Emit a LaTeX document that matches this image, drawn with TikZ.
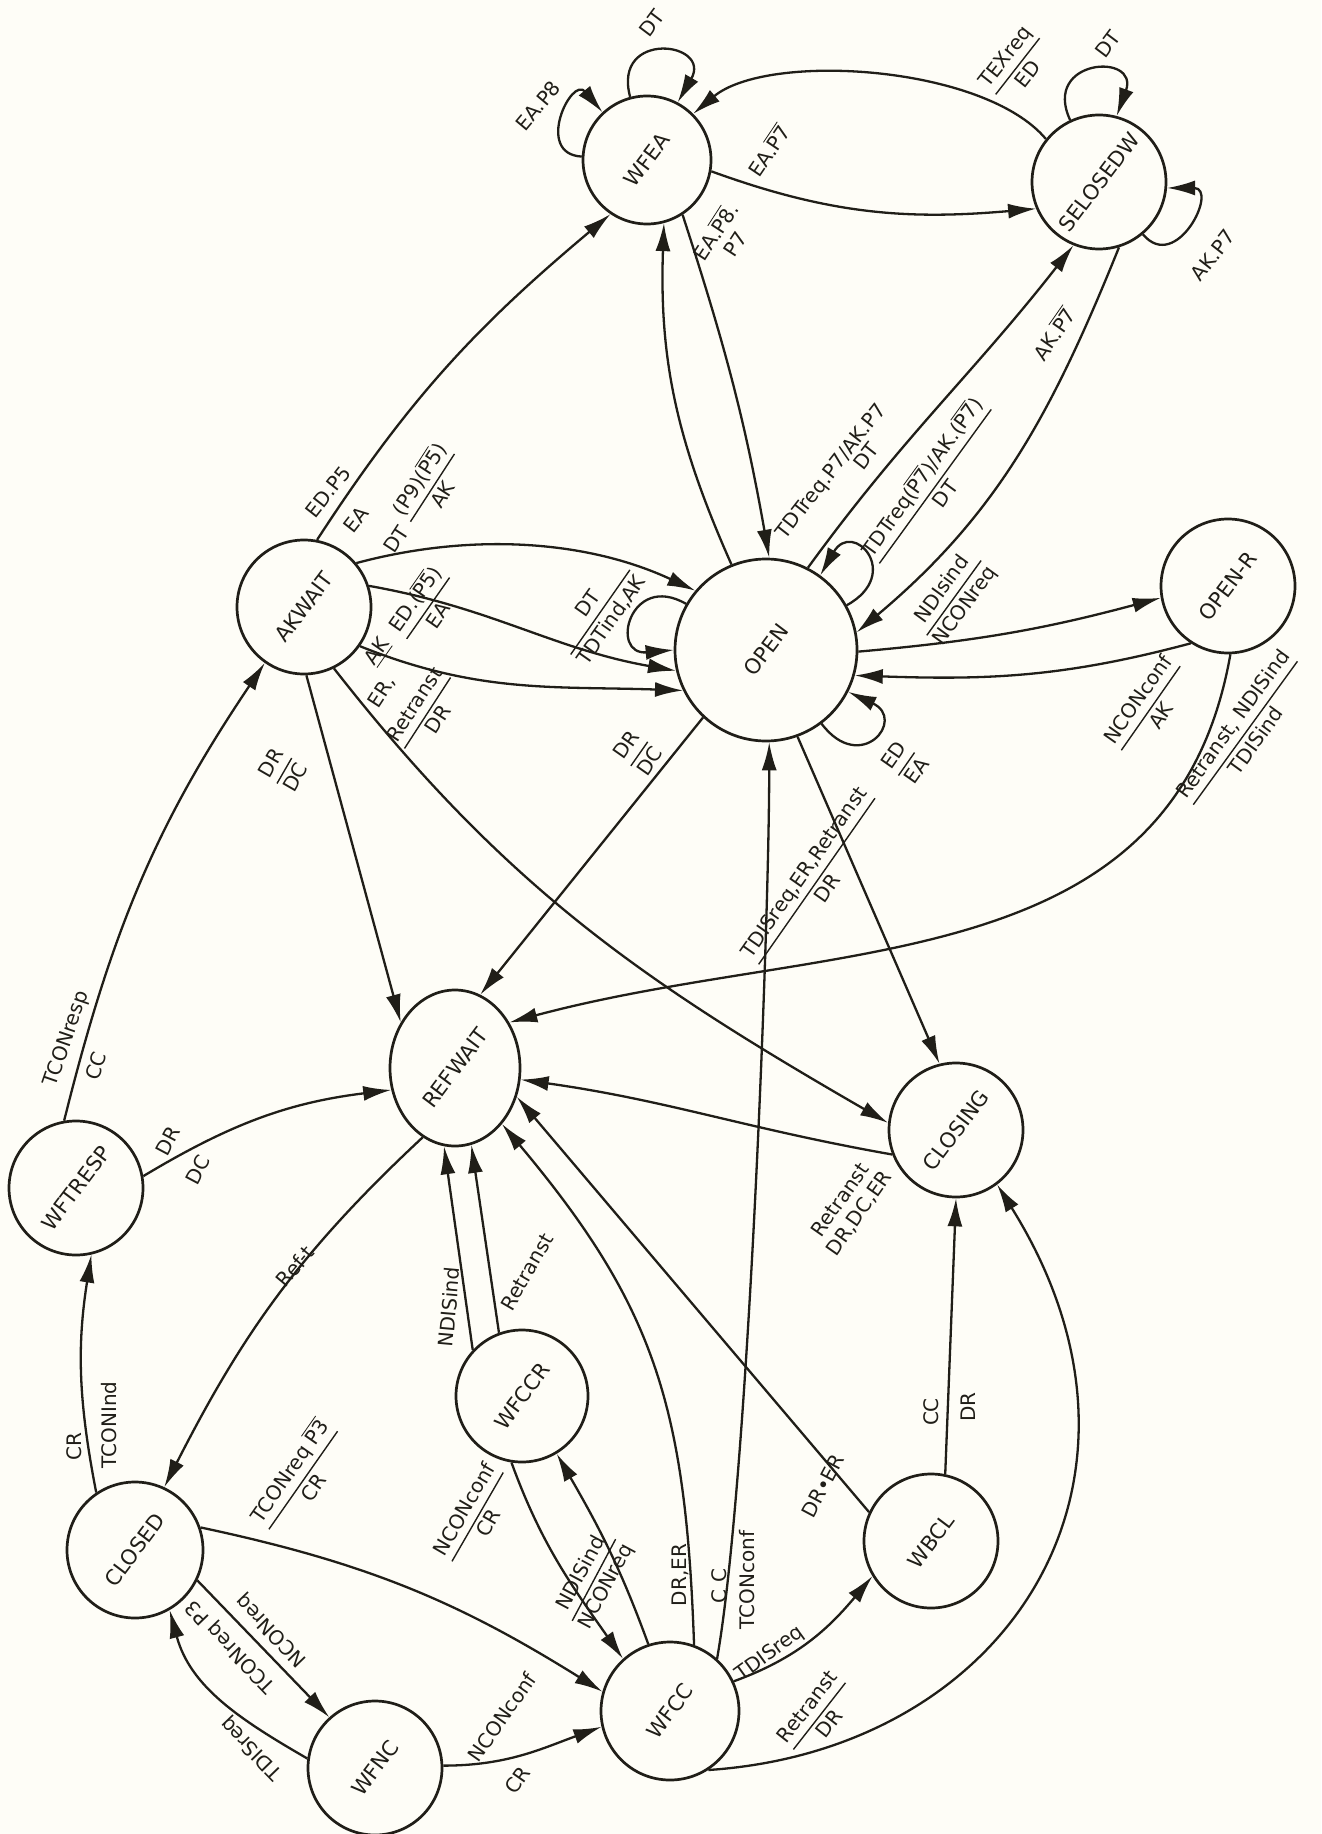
\documentclass[tikz,border=0pt]{standalone}
\usepackage{fontspec}
\usepackage{amsmath}
\usepackage{graphicx}
\setmainfont{DejaVu Sans}
\newfontfamily\nfont{DejaVu Sans}
\newfontfamily\lfont{DejaVu Sans}
\usetikzlibrary{arrows.meta,shapes.geometric}
\definecolor{ink}{RGB}{32,30,24}
\definecolor{paper}{RGB}{254,253,247}
\newcommand\frx[2]{\ensuremath{\genfrac{}{}{0.7pt}{0}{\hbox{#1}}{\hbox{#2}}}}
\newcommand\olx[1]{\ensuremath{\overline{\hbox{#1}}}}
\begin{document}
\begin{tikzpicture}[x=0.5pt,y=0.5pt,
 st/.style={circle,draw=ink,line width=1.35pt,minimum size=#1,inner sep=0pt,font=\nfont\fontsize{10.5}{12}\selectfont,text=ink},
 st/.default=67pt,
 tr/.style={draw=ink,line width=1.15pt,-{Latex[length=14pt,width=7.5pt]}},
 lb/.style={font=\lfont\fontsize{10}{11.5}\selectfont,inner sep=0.5pt,text=ink},
]
\path[fill=paper,use as bounding box] (0,0) rectangle (1321,-1834);

% states
\node[st=64pt] (WFEA) at (647,-160) {\rotatebox{53}{WFEA}};
\node[st] (SEL) at (1099,-182) {\rotatebox{53}{SELOSEDW}};
\node[st] (AKW) at (304,-607) {\rotatebox{53}{AKWAIT}};
\node[st=91pt] (OPEN) at (766,-650) {\rotatebox{53}{OPEN}};
\node[st] (OPR) at (1228,-586) {\rotatebox{53}{OPEN-R}};
\node[ellipse,draw=ink,line width=1.35pt,minimum width=65pt,minimum height=78pt,inner sep=0pt,font=\nfont\fontsize{10.5}{12}\selectfont,text=ink] (REF) at (455,-1068) {\rotatebox{53}{REFWAIT}};
\node[st] (CLG) at (956,-1130) {\rotatebox{53}{CLOSING}};
\node[st] (WFT) at (76,-1188) {\rotatebox{53}{WFTRESP}};
\node[st=66pt] (WFCCR) at (522,-1396) {\rotatebox{53}{WFCCR}};
\node[st=68pt] (CLD) at (135,-1550) {\rotatebox{53}{CLOSED}};
\node[st] (WBCL) at (931,-1541) {\rotatebox{53}{WBCL}};
\node[st] (WFNC) at (375,-1768) {\rotatebox{53}{WFNC}};
\node[st=69pt] (WFCC) at (670,-1711) {\rotatebox{53}{WFCC}};

% transitions
\draw[tr] (WFEA.105) .. controls +(105:70) and +(60:70) .. (WFEA.62);
\draw[tr] (WFEA.177) .. controls +(177:48) and +(130:48) .. (WFEA.133);
\draw[tr] (WFEA.-10) to[out=-20,in=185] (SEL.203);
\draw[tr] (SEL.141) to[out=130,in=40,looseness=0.7] (WFEA.45);
\draw[tr] (SEL.115) .. controls +(115:68) and +(70:68) .. (SEL.75);
\draw[tr] (SEL.-50) .. controls +(-50:52) and +(0:52) .. (SEL.-5);
\draw[tr] (WFEA.-57) to[out=-72,in=100] (OPEN.88);
\draw[tr] (OPEN.112) to[out=114,in=-92] (WFEA.-75);
\draw[tr] (OPEN.63) to[out=54,in=-128] (SEL.-112);
\draw[tr] (SEL.-73) to[out=-112,in=40] (OPEN.11);
\draw[tr] (OPEN.29) .. controls +(29:65) and +(60:65) .. (OPEN.54);
\draw[tr] (OPEN.150) .. controls +(150:65) and +(185:65) .. (OPEN.180);
\draw[tr] (OPEN.-53) .. controls +(-53:65) and +(-25:65) .. (OPEN.-27);
\draw[tr] (AKW.40) to[out=15,in=155,looseness=0.9] (OPEN.140);
\draw[tr] (AKW.18) to[out=-10,in=170] (OPEN.193);
\draw[tr] (AKW.-35) to[out=-22,in=178] (OPEN.206);
\draw[tr] (AKW.79) to[out=57,in=-140] (WFEA.-124);
\draw[tr] (AKW.-88) -- (REF.140);
\draw[tr] (AKW.-64) to[out=-52,in=150] (CLG.174);
\draw[tr] (OPEN.-133) -- (REF.71);
\draw[tr] (OPEN.-70) -- (CLG.104);
\draw[tr] (OPEN.-1) to[out=5,in=195] (OPR.190);
\draw[tr] (OPR.-123) to[out=-165,in=-2] (OPEN.-16);
\draw[tr] (OPR.-88) to[out=-100,in=15,looseness=1.05] (REF.40);
\draw[tr] (CLG.201) to[out=170,in=-8] (REF.-10);
\draw[tr] (WFT.100) to[out=76,in=-124] (AKW.-125);
\draw[tr] (WFT.10) to[out=31,in=187] (REF.199);
\draw[tr] (REF.245) to[out=-137,in=63] (CLD.65);
\draw[tr] (CLD.124) to[out=101,in=-99] (WFT.-77);
\draw[tr] (CLD.19) to[out=-12,in=148] (WFCC.164);
\draw[tr] (CLD.-26) -- (WFNC.132);
\draw[tr] (WFNC.172) to[out=150,in=-75] (CLD.-60);
\draw[tr] (WFNC.2) to[out=0,in=200] (WFCC.193);
\draw[tr] (WFCCR.-99) to[out=-70,in=125] (WFCC.132);
\draw[tr] (WFCC.108) to[out=110,in=-60] (WFCCR.-59);
\draw[tr] (WFCCR.137) -- (REF.-98);
\draw[tr] (WFCCR.110) -- (REF.-78);
\draw[tr] (WFCC.70) to[out=92,in=-50,looseness=1.1] (REF.-50);
\draw[tr] (WFCC.48) to[out=80,in=-90,looseness=0.5] (OPEN.-88);
\draw[tr] (WBCL.155) -- (REF.-25);
\draw[tr] (WBCL.78) -- (CLG.-90);
\draw[tr] (WFCC.25) to[out=20,in=-130] (WBCL.211);
\draw[tr] (WFCC.-57) .. controls +(3.8:300) and +(-58:350) .. (CLG.-53);

% labels
\node[lb,rotate=53] (t1) at (652,-23) {DT};
\node[lb,rotate=50] (t2) at (538,-106) {EA.P8};
\node[lb,rotate=56] (t3) at (768,-150) {EA.\olx{P7}};
\node[lb,rotate=52] (t4) at (1016,-65) {\frx{TEXreq}{ED}};
\node[lb,rotate=53] (t5) at (1108,-44) {DT};
\node[lb,rotate=52] (t6) at (1213,-255) {AK.P7};
\node[lb,rotate=57,align=center] (t7) at (724,-237) {EA.\olx{P8}.\\P7};
\node[lb,rotate=52] (t8) at (832,-472) {TDTreq.P7/AK.P7};
\node[lb,rotate=52] (t8b) at (866,-456) {DT};
\node[lb,rotate=54] (t9) at (932,-484) {\frx{TDTreq(\olx{P7})/AK.(\olx{P7})}{DT}};
\node[lb,rotate=55] (t10) at (1053,-333) {AK.\olx{P7}};
\node[lb,rotate=55] (t11) at (600,-612) {\frx{DT}{TDTind,AK}};
\node[lb,rotate=55] (t12) at (905,-763) {\frx{ED}{EA}};
\node[lb,rotate=57] (t13) at (420,-500) {DT \frx{(P9)(\olx{P5})}{AK}};
\node[lb,rotate=55] (t14) at (378,-652) {\underline{AK}};
\node[lb,rotate=55] (t15) at (425,-606) {\frx{ED.(\olx{P5})}{EA}};
\node[lb,rotate=52] (t16) at (328,-492) {ED.P5};
\node[lb,rotate=52] (t16b) at (356,-520) {EA};
\node[lb,rotate=60] (t17) at (283,-770) {\frx{DR}{DC}};
\node[lb,rotate=57] (t18) at (382,-692) {ER,};
\node[lb,rotate=57] (t18b) at (426,-712) {\frx{Retranst}{DR}};
\node[lb,rotate=55] (t19) at (638,-753) {\frx{DR}{DC}};
\node[lb,rotate=55] (t20) at (815,-880) {\frx{TDISreq,ER,Retranst}{DR}};
\node[lb,rotate=54] (t21) at (954,-598) {\frx{NDIsind}{NCONreq}};
\node[lb,rotate=55] (t22) at (1149,-707) {\frx{NCONconf}{AK}};
\node[lb,rotate=54] (t23) at (1244,-732) {\frx{Retranst, NDISind}{TDISind}};
\node[lb,rotate=55,align=center] (t24) at (850,-1207) {Retranst\\DR,DC,ER};
\node[lb,rotate=71] (t25) at (67,-1039) {TCONresp};
\node[lb,rotate=71] (t25b) at (96,-1066) {CC};
\node[lb,rotate=62] (t26) at (168,-1141) {DR};
\node[lb,rotate=62] (t26b) at (198,-1170) {DC};
\node[lb,rotate=50] (t27) at (295,-1266) {Ref-t};
\node[lb,rotate=90] (t28) at (74,-1447) {CR};
\node[lb,rotate=90] (t28b) at (109,-1425) {TCONInd};
\node[lb,rotate=55] (t29) at (300,-1478) {\frx{TCONreq \olx{P3}}{CR}};
\node[lb,rotate=134] (t30) at (272,-1630) {NCONreq};
\node[lb,rotate=134] (t30b) at (231,-1646) {TCONreq P3};
\node[lb,rotate=134] (t31) at (252,-1748) {TDISreq};
\node[lb,rotate=55] (t32) at (502,-1717) {NCONconf};
\node[lb,rotate=55] (t32b) at (518,-1780) {CR};
\node[lb,rotate=60] (t33) at (476,-1516) {\frx{NCONconf}{CR}};
\node[lb,rotate=62] (t34) at (594,-1580) {\frx{NDISind}{NCONreq}};
\node[lb,rotate=85] (t35) at (449,-1307) {NDISind};
\node[lb,rotate=60] (t36) at (527,-1272) {Retranst};
\node[lb,rotate=90] (t37) at (680,-1575) {DR,ER};
\node[lb,rotate=90] (t38) at (719,-1586) {C C};
\node[lb,rotate=90] (t38b) at (747,-1580) {TCONconf};
\node[lb,rotate=62] (t39) at (823,-1486) {DR\textbullet ER};
\node[lb,rotate=90] (t40) at (931,-1412) {CC};
\node[lb,rotate=90] (t40b) at (968,-1407) {DR};
\node[lb,rotate=36] (t41) at (770,-1654) {TDISreq};
\node[lb,rotate=52] (t42) at (818,-1715) {\frx{Retranst}{DR}};
\end{tikzpicture}
\end{document}
